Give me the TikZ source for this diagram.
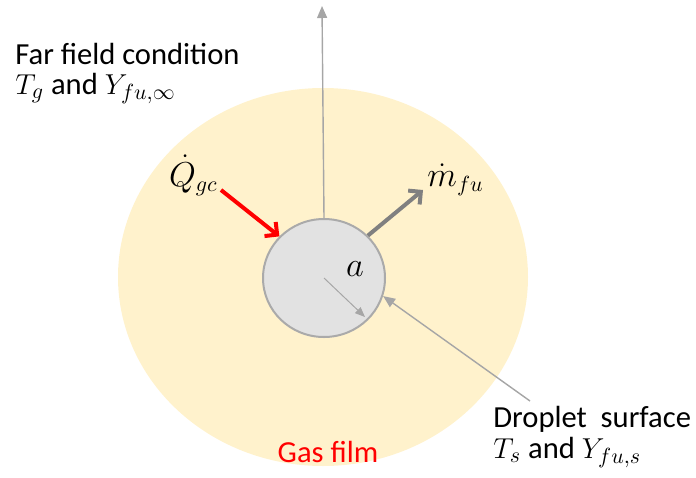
\documentclass[tikz,border=0pt]{standalone}
\usepackage{amsmath,amssymb}
\usepackage{fontspec}
\setmainfont{Carlito}
\usepackage{tikz}
\usetikzlibrary{arrows.meta,positioning,calc,shapes.geometric}
\definecolor{pelicula}{RGB}{255,242,204}
\definecolor{gotaf}{RGB}{226,226,226}
\definecolor{gotab}{RGB}{170,170,170}
\definecolor{grisl}{RGB}{166,166,166}
\definecolor{grisf}{RGB}{128,128,128}
\definecolor{rojo}{RGB}{255,0,0}
\tikzset{
  film/.style={ellipse, fill=pelicula, draw=none, inner sep=0pt, minimum width=205pt, minimum height=189pt},
  gota/.style={ellipse, fill=gotaf, draw=gotab, line width=1pt, inner sep=0pt, minimum width=61pt, minimum height=59pt},
  et/.style={font=\fontsize{15.3}{15}\selectfont, align=left, inner sep=0pt},
  etm/.style={font=\fontsize{16}{18}\selectfont, inner sep=0pt},
  fli/.style={-{Triangle[length=6pt,width=5pt]}, line width=0.7pt, grisl},
  flq/.style={-{Straight Barb[length=4.5pt,width=9pt]}, line width=2pt, rojo},
  flm/.style={-{Straight Barb[length=4.5pt,width=9pt]}, line width=2pt, grisf},
}
\begin{document}
\begin{tikzpicture}[x=0.5pt,y=-0.5pt]
  \useasboundingbox (0,0) rectangle (696,477);
  \node[film] (pel) at (323,277) {};
  \node[gota] (drop) at (324,278) {};
  % far field
  \node[et, anchor=north west] (lejos) at (15,43) {Far field condition\\$T_g$ and $Y_{fu,\infty}$};
  \coordinate (arriba) at (322,6);
  \draw[fli] (drop.north) -- (arriba);
  % heat in, fuel out
  \coordinate (qini) at (221,190);
  \coordinate (mfin) at (423,190);
  \draw[flq] (qini) -- (drop.137);
  \draw[flm] (drop.44) -- (mfin);
  \node[etm, anchor=base east] (qgc) at (218,186) {$\dot Q_{gc}$};
  \node[etm, anchor=base west] (mfu) at (427,186) {$\dot m_{fu}$};
  % radius
  \coordinate (rad) at (365,317);
  \draw[fli, line width=0.5pt, -{Triangle[length=5pt,width=4pt]}] (drop.center) -- (rad);
  \node[etm] (ra) at (355,269) {$a$};
  % surface
  \node[et, anchor=north west] (sup) at (493,406) {Droplet\ \ surface\\[0.5pt]$T_s$ and $Y_{fu,s}$};
  \coordinate (supini) at (530,401);
  \draw[fli] (supini) -- (drop.-17);
  \node[et, text=rojo] (gas) at (328,452) {Gas film};
\end{tikzpicture}
\end{document}
